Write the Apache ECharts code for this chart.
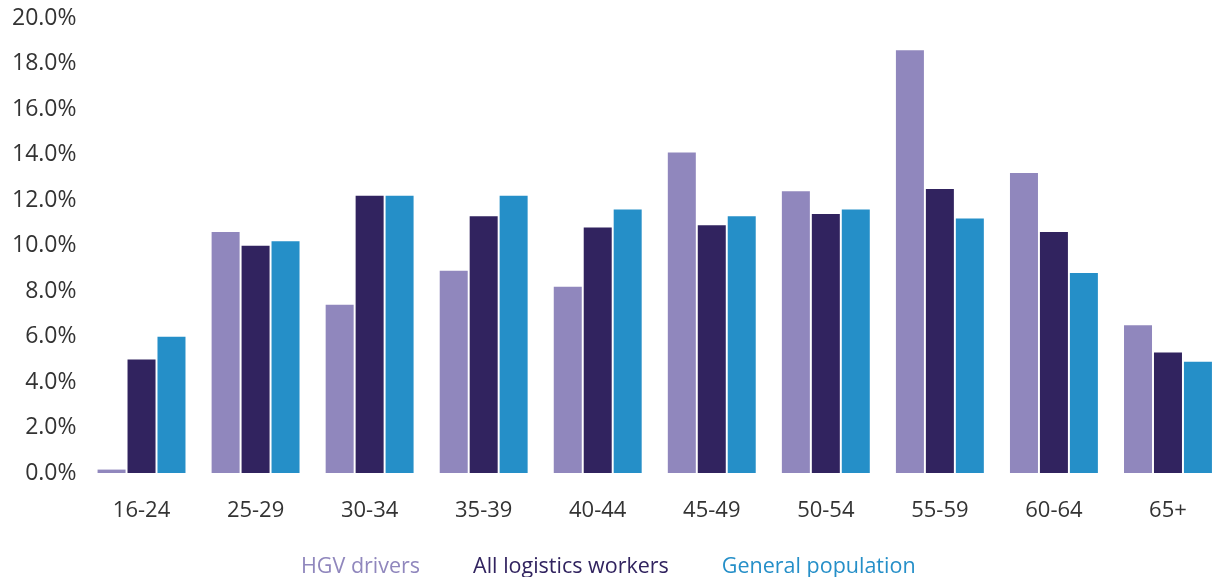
<!DOCTYPE html>
<html>
<head>
<meta charset="utf-8">
<script src="https://cdn.jsdelivr.net/npm/echarts@6/dist/echarts.min.js"></script>
<style>
  html, body { margin: 0; padding: 0; background: #ffffff; overflow: hidden; }
  /* drawing surface is a bit wider than the window; the last bar runs off the edge */
  #chart { width: 1240px; height: 577px; }
</style>
</head>
<body>
<div id="chart"></div>
<script>
// Age bands
var ageBands = ['16-24', '25-29', '30-34', '35-39', '40-44', '45-49', '50-54', '55-59', '60-64', '65+'];

// Share of each group by age band (%)
var hgvDrivers        = [0.15, 10.6, 7.4, 8.9, 8.2, 14.1, 12.4, 18.6, 13.2, 6.5];
var logisticsWorkers  = [5.0, 10.0, 12.2, 11.3, 10.8, 10.9, 11.4, 12.5, 10.6, 5.3];
var generalPopulation = [6.0, 10.2, 12.2, 12.2, 11.6, 11.3, 11.6, 11.2, 8.8, 4.9];

var seriesNames = ['HGV drivers', 'All logistics workers', 'General population'];
var seriesColors = ['#9087bd', '#31235f', '#258fc8'];

var FONT = 'Open Sans';

var chart = echarts.init(document.getElementById('chart'));

function barSeries(i, values) {
  return {
    name: seriesNames[i],
    type: 'bar',
    data: values,
    barWidth: 28,
    barGap: '7%',
    itemStyle: { color: seriesColors[i] },
    emphasis: { disabled: true }
  };
}

chart.setOption({
  animation: false,
  textStyle: { fontFamily: FONT },
  grid: { left: 84.5, width: 1140.5, top: 18.5, height: 454.5, containLabel: false },
  legend: {
    left: 291,
    top: 551,
    icon: 'rect',
    itemWidth: 0,
    itemHeight: 0,
    itemGap: 48,
    selectedMode: false,
    textStyle: { fontFamily: FONT, fontSize: 21.5 },
    data: seriesNames.map(function (n, i) {
      return { name: n, textStyle: { color: seriesColors[i] } };
    })
  },
  xAxis: {
    type: 'category',
    data: ageBands,
    axisLine: { show: false },
    axisTick: { show: false },
    axisLabel: { color: '#333333', fontSize: 22, margin: 27, fontFamily: FONT }
  },
  yAxis: {
    type: 'value',
    min: 0,
    max: 20,
    interval: 2,
    axisLine: { show: false },
    axisTick: { show: false },
    splitLine: { show: false },
    axisLabel: {
      color: '#333333',
      fontSize: 23,
      margin: 8,
      fontFamily: FONT,
      formatter: function (v) { return v.toFixed(1) + '%'; }
    }
  },
  series: [
    barSeries(0, hgvDrivers),
    barSeries(1, logisticsWorkers),
    barSeries(2, generalPopulation)
  ]
});
</script>
</body>
</html>
